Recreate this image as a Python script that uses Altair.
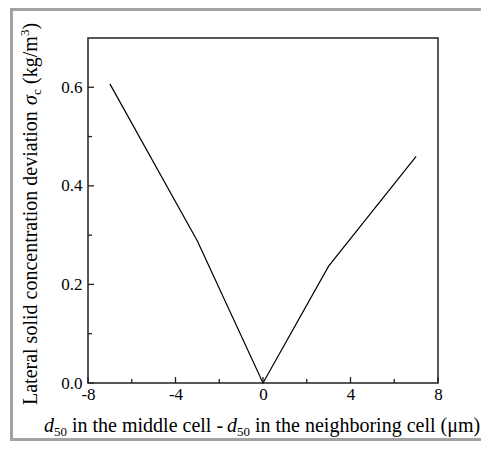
import altair as alt
import pandas as pd

# ---- data ----
x_vals = [-7, -3, 0, 3, 7]
y_vals = [0.607, 0.288, 0.0, 0.237, 0.46]

x_major = [-8, -4, 0, 4, 8]
x_minor = [-6, -2, 2, 6]
y_major = [0.0, 0.2, 0.4, 0.6]
y_minor = [0.1, 0.3, 0.5]

# title pieces
xt_d = "d"
xt_sub = "50"
xt_mid = "in the middle cell -"
xt_end = "in the neighboring cell (μm)"
yt_main = "Lateral solid concentration deviation"
yt_sigma = "σ"
yt_sub = "c"
yt_unit = "(kg/m"
yt_sup = "3"
yt_close = ")"

W, H = 350, 345
FONT = "Liberation Serif"
FRAME = "#222222"

xscale = alt.Scale(domain=[-8, 8], nice=False, zero=False)
yscale = alt.Scale(domain=[0, 0.7], nice=False, zero=False)

df = pd.DataFrame({"x": x_vals, "y": y_vals})
one = pd.DataFrame({"a": [0]})

line = alt.Chart(df).mark_line(color="black", strokeWidth=1.2).encode(
    x=alt.X("x:Q", scale=xscale,
            axis=alt.Axis(values=x_major, labelExpr="datum.value", title=None,
                          ticks=False, tickSize=0, domain=False, grid=False,
                          labelFont=FONT, labelFontSize=17, labelColor="black",
                          labelPadding=3, labelFlush=False, labelOverlap=False)),
    y=alt.Y("y:Q", scale=yscale,
            axis=alt.Axis(values=y_major, format=".1f", title=None,
                          ticks=False, tickSize=0, domain=False, grid=False,
                          labelFont=FONT, labelFontSize=17, labelColor="black",
                          labelPadding=6, labelOverlap=False)),
)

def xticks(vals, length):
    return alt.Chart(pd.DataFrame({"x": vals})).mark_rule(color=FRAME, strokeWidth=1.3).encode(
        x=alt.X("x:Q", scale=xscale), y=alt.value(H), y2=alt.value(H - length))

def yticks(vals, length):
    return alt.Chart(pd.DataFrame({"y": vals})).mark_rule(color=FRAME, strokeWidth=1.3).encode(
        y=alt.Y("y:Q", scale=yscale), x=alt.value(0), x2=alt.value(length))

def txt(s, x, y, size=20, style="normal", angle=0):
    return alt.Chart(one).mark_text(text=s, font=FONT, fontSize=size, fontStyle=style,
                                    align="left", baseline="alphabetic", angle=angle,
                                    color="black").encode(x=alt.value(x), y=alt.value(y))

# x title (plot coordinates)
XB = 394
xtitle = [
    txt(xt_d, -44, XB, style="italic"),
    txt(xt_sub, -34, XB + 4, size=13),
    txt(xt_mid, -16, XB),
    txt(xt_d, 139, XB, style="italic"),
    txt(xt_sub, 149, XB + 4, size=13),
    txt(xt_end, 167, XB),
]

# y title (rotated)
YB = -51
ytitle = [
    txt(yt_main, YB, 367, angle=270),
    txt(yt_sigma, YB, 67, style="italic", angle=270),
    txt(yt_sub, YB + 4, 57, size=13, angle=270),
    txt(yt_unit, YB, 46, angle=270),
    txt(yt_sup, YB - 8, -2, size=13, angle=270),
    txt(yt_close, YB, -8.5, angle=270),
]

GRAY = "#a3a3a3"
border = [
    alt.Chart(one).mark_rule(color=GRAY, strokeWidth=3).encode(
        x=alt.value(-76.5), y=alt.value(-28.5), y2=alt.value(401.5)),
    alt.Chart(one).mark_rule(color=GRAY, strokeWidth=3).encode(
        x=alt.value(-78), x2=alt.value(500), y=alt.value(-28.5)),
    alt.Chart(one).mark_rule(color=GRAY, strokeWidth=3).encode(
        x=alt.value(-78), x2=alt.value(500), y=alt.value(401.5)),
]

chart = alt.layer(
    line,
    xticks(x_major, 6), xticks(x_minor, 4),
    yticks(y_major, 6), yticks(y_minor, 4),
    *xtitle, *ytitle, *border,
).properties(
    width=W, height=H,
    autosize=alt.AutoSizeParams(type="none"),
    padding={"left": 80, "top": 30, "right": 43, "bottom": 58},
).configure_view(stroke=FRAME, strokeWidth=1.5)

chart.save("out.html", embed_options={"renderer": "svg", "actions": False})
